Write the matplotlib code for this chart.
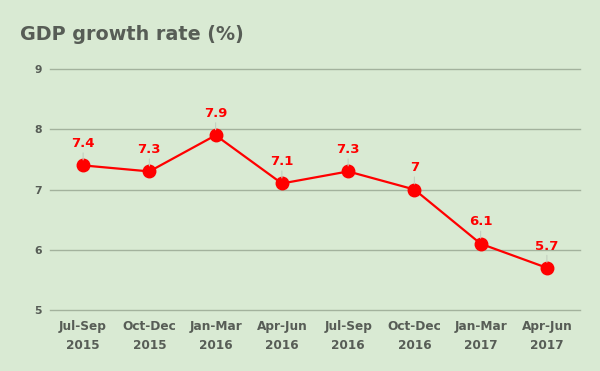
import matplotlib
matplotlib.use("Agg")
import matplotlib.pyplot as plt

categories = ["Jul-Sep\n2015", "Oct-Dec\n2015", "Jan-Mar\n2016", "Apr-Jun\n2016",
              "Jul-Sep\n2016", "Oct-Dec\n2016", "Jan-Mar\n2017", "Apr-Jun\n2017"]
values = [7.4, 7.3, 7.9, 7.1, 7.3, 7.0, 6.1, 5.7]
labels = ["7.4", "7.3", "7.9", "7.1", "7.3", "7", "6.1", "5.7"]
yticks = [5, 6, 7, 8, 9]

bg = "#d9ead3"
txt = "#575d56"
plt.rcParams['font.family'] = ['DejaVu Sans']

fig = plt.figure(figsize=(6, 3.71), dpi=100, facecolor=bg)
ax = fig.add_axes([50/600, 1-310/371, 530/600, 241/371])
ax.set_facecolor(bg)
x = list(range(len(values)))
ax.plot(x, values, color="#ff0000", lw=1.6, marker="o", markersize=9, zorder=3, clip_on=False)
for xi, v, lab in zip(x, values, labels):
    ax.annotate(lab, (xi, v), xytext=(0, 11), textcoords="offset points",
                ha="center", va="bottom", color="#ff0000", fontsize=9.5, fontweight="bold",
                arrowprops=dict(arrowstyle="-", color="#c3cfbf", lw=0.8, shrinkA=0, shrinkB=4))
ax.set_xlim(-0.5, 7.5)
ax.set_ylim(5, 9)
ax.set_yticks(yticks)
ax.set_yticklabels([str(t) for t in yticks])
ax.set_xticks(x)
ax.set_xticklabels(categories, linespacing=1.6)
ax.grid(axis="y", color="#a3b29d", lw=1)
for gl in ax.get_ygridlines():
    gl.set_clip_on(False)
ax.set_axisbelow(True)
for s in ax.spines.values():
    s.set_visible(False)
ax.tick_params(axis="both", length=0, colors=txt, labelsize=8.7)
ax.tick_params(axis="y", pad=6, labelsize=7.8)
ax.tick_params(axis="x", pad=7)
for t in ax.get_xticklabels() + ax.get_yticklabels():
    t.set_fontweight("bold")
fig.text(20/600, 1-34/371, "GDP growth rate (%)", fontsize=13.8, fontweight="bold",
         color=txt, va="center", ha="left")
fig.savefig("out.png", dpi=100, facecolor=bg)
